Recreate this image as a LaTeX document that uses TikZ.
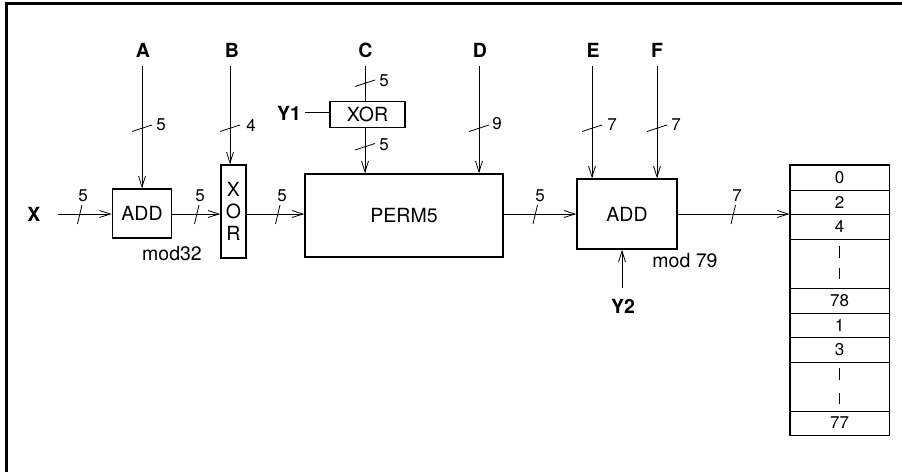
\documentclass[tikz,border=0pt]{standalone}
\usepackage{fontspec}
\setmainfont{TeX Gyre Heros}
\usetikzlibrary{arrows.meta}
\begin{document}
\begin{tikzpicture}[x=1pt,y=-1pt,
  blk/.style={draw,line width=1.5pt,inner sep=0pt,font=\fontsize{19.5}{22}\selectfont},
  sig/.style={inner sep=0pt,font=\bfseries\fontsize{19.5}{20}\selectfont},
  num/.style={inner sep=0pt,font=\fontsize{17}{18}\selectfont},
  bus/.style={line width=0.8pt,-{Straight Barb[length=11pt,width=7pt,line width=0.8pt]}},
  wire/.style={line width=0.8pt},
  cell/.style={draw,line width=0.8pt,minimum width=99pt,inner sep=0pt,font=\fontsize{17}{18}\selectfont}]
\useasboundingbox (0,0) rectangle (902,472);
% frame
\draw[line width=3pt] (6.5,472) -- (6.5,3.5) -- (902,3.5);

% blocks
\node[blk,minimum width=59pt,minimum height=49pt] (add1) at (142,213.5) {ADD};
\node[blk,minimum width=25pt,minimum height=93pt,align=center] (xorv) at (233.5,211.5) {X\\O\\R};
\node[blk,minimum width=198pt,minimum height=83pt] (perm) at (404,215.5) {PERM5};
\node[blk,line width=1.2pt,minimum width=75pt,minimum height=26pt] (xors) at (367.5,114.5) {XOR};
\node[blk,minimum width=100pt,minimum height=70pt] (add2) at (627,214) {ADD};
\node[num,font=\fontsize{19.5}{20}\selectfont] (m32) at (172,254) {mod32};
\node[num,font=\fontsize{19.5}{20}\selectfont] (m79) at (685,261) {mod 79};

% signal labels
\node[sig] (A) at (143,50) {A};
\node[sig] (B) at (232,50) {B};
\node[sig] (C) at (365.5,50) {C};
\node[sig] (D) at (480,50) {D};
\node[sig] (E) at (593,50) {E};
\node[sig] (F) at (657,50) {F};
\node[sig] (X) at (34,214) {X};
\node[sig] (Y1) at (289,113) {Y1};
\node[sig] (Y2) at (623,306) {Y2};

% wire start points
\coordinate (a0) at (142,66);
\coordinate (b0) at (230,66);
\coordinate (c0) at (365,66);
\coordinate (d0) at (479,66);
\coordinate (e0) at (592,66);
\coordinate (f0) at (657,66);
\coordinate (x0) at (58,214);
\coordinate (y10) at (305,112);
\coordinate (y20) at (622,288);

% table
\node[cell,minimum height=25pt] (r0) at (839.5,177.5) {0};
\node[cell,minimum height=24pt] (r2) at (839.5,202) {2};
\node[cell,minimum height=25pt] (r4) at (839.5,226.5) {4};
\node[cell,minimum height=49pt] (rd1) at (839.5,263.5) {};
\node[cell,minimum height=25pt] (r78) at (839.5,300.5) {78};
\node[cell,minimum height=24pt] (r1) at (839.5,325) {1};
\node[cell,minimum height=25pt] (r3) at (839.5,349.5) {3};
\node[cell,minimum height=49pt] (rd2) at (839.5,386.5) {};
\node[cell,minimum height=24pt] (r77) at (839.5,423) {77};
\draw[line width=1.6pt] (r0.north west) rectangle (r77.south east);
\draw[wire] (839.5,246) -- (839.5,258) (839.5,268) -- (839.5,279);
\draw[wire] (839.5,368) -- (839.5,380) (839.5,393) -- (839.5,404);

% connectors
\draw[bus] (x0) -- (add1.west |- x0);
\draw[bus] (a0) -- (a0 |- add1.north);
\draw[bus] (add1.east |- x0) -- (xorv.west |- x0);
\draw[bus] (b0) -- (b0 |- xorv.north);
\draw[bus] (xorv.east |- x0) -- (perm.west |- x0);
\draw[wire] (c0) -- (c0 |- xors.north);
\draw[wire] (y10) -- (xors.west |- y10);
\draw[bus] (c0 |- xors.south) -- (c0 |- perm.north);
\draw[bus] (d0) -- (d0 |- perm.north);
\draw[bus] (perm.east |- x0) -- (add2.west |- x0);
\draw[bus] (e0) -- (e0 |- add2.north);
\draw[bus] (f0) -- (f0 |- add2.north);
\draw[bus] (add2.east |- x0) -- (r0.west |- x0);
\draw[bus] (y20) -- (y20 |- add2.south);

% width ticks on horizontal buses
\draw[wire] (77.5,224) -- (82,205);   \node[num] (tx) at (83,196) {5};
\draw[wire] (194.5,224) -- (199,205); \node[num] (ta) at (200,196) {5};
\draw[wire] (275.5,224) -- (280,205); \node[num] (tb) at (282,196) {5};
\draw[wire] (533,224) -- (537.5,205); \node[num] (tp) at (540,196) {5};
\draw[wire] (731,224) -- (735.5,205); \node[num] (tq) at (737,196) {7};

% width ticks on vertical buses
\draw[wire] (132,131.5) -- (152,125);  \node[num] (va) at (161,125) {5};
\draw[wire] (220,131.5) -- (240,125);  \node[num] (vb) at (251,125) {4};
\draw[wire] (355,86.5) -- (375,80);    \node[num] (vc) at (384,81) {5};
\draw[wire] (355,150) -- (375,143.5);  \node[num] (vc2) at (384,145) {5};
\draw[wire] (469,131.5) -- (489,125);  \node[num] (vd) at (497,124) {9};
\draw[wire] (582,131.5) -- (602,125);  \node[num] (ve) at (612,125) {7};
\draw[wire] (647,131.5) -- (667,125);  \node[num] (vf) at (676,125) {7};
\end{tikzpicture}
\end{document}
